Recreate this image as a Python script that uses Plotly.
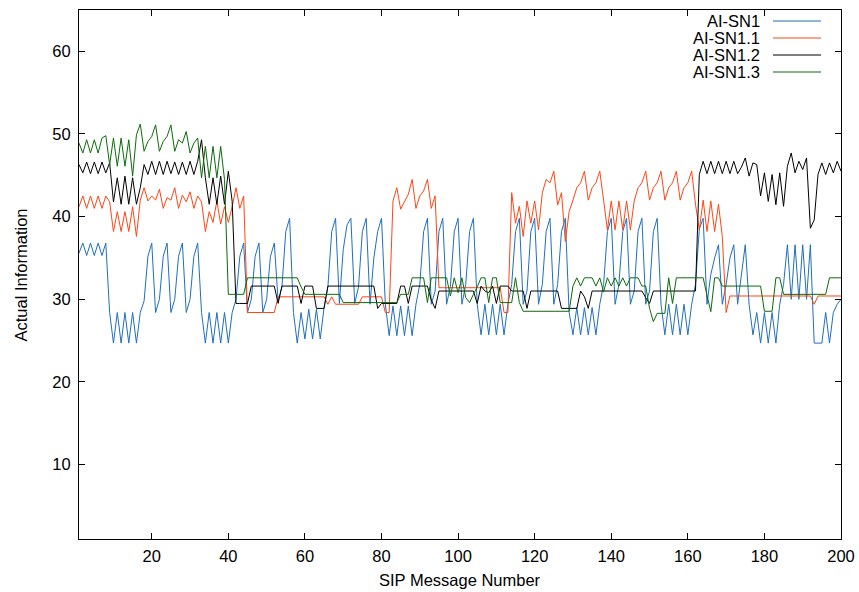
import plotly.graph_objects as go

msg_num = list(range(1, 201))

ai_sn1 = [
    35.6, 36.8, 35.3, 36.8, 35.3, 36.8, 35.3, 36.8, 28.4, 24.7,
    28.4, 24.7, 28.4, 24.7, 28.4, 24.7, 28.4, 29.8, 35.2, 36.8,
    28.4, 30.0, 35.2, 36.8, 28.4, 30.0, 35.2, 36.8, 28.4, 30.0,
    35.2, 36.8, 28.4, 24.7, 28.4, 24.7, 28.4, 24.7, 28.4, 24.7,
    28.4, 30.0, 35.2, 36.8, 28.4, 30.0, 35.2, 36.8, 28.4, 30.0,
    35.2, 36.8, 29.8, 31.5, 38.2, 39.8, 28.4, 24.7, 28.4, 25.2,
    28.8, 25.2, 28.8, 25.2, 29.0, 31.5, 38.2, 39.8, 29.5, 36.0,
    39.0, 39.8, 29.5, 31.5, 38.2, 39.8, 29.4, 35.0, 38.2, 39.8,
    29.4, 25.6, 29.2, 25.6, 29.2, 25.6, 29.2, 25.6, 29.4, 31.8,
    38.2, 39.8, 29.4, 31.0, 38.2, 39.8, 29.4, 31.6, 38.2, 39.8,
    29.4, 31.8, 38.2, 39.8, 29.4, 25.7, 29.4, 25.7, 29.4, 25.7,
    29.4, 25.7, 29.4, 31.8, 38.2, 39.8, 29.4, 31.0, 38.2, 39.8,
    29.4, 31.8, 38.2, 39.8, 29.4, 31.8, 38.2, 39.8, 28.4, 25.7,
    29.0, 25.7, 29.0, 25.7, 29.0, 25.7, 29.4, 31.8, 38.2, 39.8,
    29.4, 31.8, 38.2, 39.8, 29.4, 31.0, 38.2, 39.8, 29.4, 31.0,
    38.2, 39.8, 29.4, 25.7, 29.4, 25.7, 29.4, 25.7, 29.4, 25.7,
    29.4, 31.8, 38.5, 39.8, 29.4, 33.0, 35.0, 36.6, 29.4, 31.8,
    35.0, 36.6, 29.4, 33.0, 36.6, 29.4, 25.7, 28.4, 24.7, 28.4,
    24.7, 28.4, 24.7, 29.4, 31.8, 36.6, 30.0, 36.6, 30.0, 36.6,
    30.0, 36.6, 24.7, 24.7, 24.7, 28.4, 24.7, 28.4, 29.4, 30.0,
]

ai_sn1_1 = [
    41.2, 42.5, 41.0, 42.5, 41.0, 42.5, 41.0, 42.5, 41.8, 38.2,
    40.6, 38.2, 40.6, 38.2, 41.2, 37.6, 42.0, 43.5, 41.9, 42.5,
    42.0, 43.3, 41.0, 42.3, 42.0, 43.5, 41.0, 42.6, 41.8, 43.0,
    41.0, 42.5, 41.8, 38.2, 40.6, 39.3, 41.9, 39.1, 41.2, 39.3,
    41.2, 43.5, 41.0, 42.5, 28.4, 28.4, 28.4, 28.4, 28.4, 28.4,
    28.4, 28.4, 30.3, 30.3, 30.3, 30.3, 30.3, 30.3, 30.3, 30.3,
    30.3, 30.3, 30.3, 30.3, 30.3, 29.4, 30.3, 29.4, 29.4, 29.4,
    29.4, 29.4, 29.4, 29.4, 30.3, 30.3, 30.3, 30.3, 30.3, 30.3,
    28.4, 28.4, 41.9, 43.5, 40.9, 41.9, 42.7, 44.5, 41.0, 42.5,
    43.1, 44.5, 41.0, 42.5, 31.4, 31.4, 31.4, 31.4, 31.4, 31.4,
    31.4, 31.4, 31.4, 31.4, 31.4, 31.4, 31.4, 31.4, 31.4, 31.4,
    31.4, 28.4, 28.4, 42.9, 39.2, 41.25, 37.6, 41.9, 39.2, 41.9,
    38.4, 42.9, 44.5, 44.1, 45.5, 41.4, 42.9, 37.0, 40.6, 42.0,
    43.5, 44.1, 45.5, 42.0, 43.5, 44.1, 45.5, 42.0, 38.4, 41.9,
    38.4, 41.9, 38.4, 41.9, 38.4, 41.9, 43.5, 44.1, 45.5, 42.0,
    43.5, 44.1, 45.5, 42.0, 43.5, 44.1, 45.5, 42.0, 43.5, 44.1,
    45.5, 41.5, 38.4, 42.0, 38.2, 41.9, 38.2, 41.5, 37.6, 28.4,
    30.4, 30.4, 30.4, 30.4, 30.4, 30.4, 30.4, 30.4, 30.4, 30.4,
    30.4, 30.4, 30.4, 30.4, 30.4, 30.4, 30.4, 30.4, 30.4, 30.4,
    30.4, 30.4, 29.4, 30.4, 30.4, 30.4, 30.4, 30.4, 30.4, 30.4,
]

ai_sn1_2 = [
    46.3, 45.3, 46.6, 45.2, 46.6, 45.2, 46.6, 45.3, 46.5, 41.8,
    44.7, 41.5, 44.9, 41.5, 44.7, 41.5, 43.5, 46.3, 45.1, 46.7,
    45.1, 46.7, 45.1, 46.7, 45.2, 46.6, 45.1, 46.6, 45.1, 46.7,
    45.1, 46.7, 49.3, 44.7, 41.5, 44.7, 41.5, 44.9, 41.5, 45.5,
    41.85, 29.5, 29.5, 29.5, 29.5, 31.6, 31.6, 31.6, 31.6, 31.6,
    31.6, 31.6, 29.5, 31.6, 31.6, 31.6, 31.6, 31.6, 29.5, 31.6,
    31.6, 31.6, 28.9, 28.9, 28.9, 31.6, 31.6, 31.6, 31.6, 31.6,
    31.6, 31.6, 31.6, 31.6, 31.6, 31.6, 31.6, 31.6, 28.9, 29.5,
    29.5, 29.5, 29.5, 29.5, 31.6, 31.6, 29.5, 31.6, 31.6, 31.6,
    31.6, 31.6, 29.9, 28.9, 31.0, 31.0, 31.0, 31.0, 31.0, 31.0,
    31.0, 31.0, 31.0, 31.0, 29.5, 31.6, 31.0, 30.8, 31.6, 29.5,
    31.6, 31.6, 31.6, 31.0, 31.0, 31.0, 31.0, 28.9, 31.0, 31.0,
    31.0, 31.0, 31.0, 31.0, 31.0, 31.0, 28.9, 28.9, 28.9, 28.9,
    28.9, 31.0, 30.3, 28.9, 31.0, 31.0, 31.0, 31.0, 31.0, 31.0,
    31.0, 31.0, 31.0, 31.0, 31.0, 31.0, 31.0, 31.0, 30.2, 29.5,
    31.0, 31.0, 31.0, 31.0, 31.0, 31.0, 31.0, 31.0, 31.0, 31.0,
    31.0, 31.0, 45.1, 46.7, 45.2, 46.7, 45.2, 46.7, 45.2, 46.7,
    45.2, 46.7, 45.2, 46.0, 47.1, 44.9, 46.5, 46.3, 42.5, 45.3,
    41.85, 45.1, 41.45, 45.3, 41.25, 46.1, 47.7, 45.3, 46.7, 45.7,
    47.1, 38.6, 39.6, 45.1, 46.5, 45.1, 46.5, 45.3, 46.7, 45.5,
]

ai_sn1_3 = [
    48.9, 47.7, 49.3, 47.7, 49.3, 47.7, 49.5, 49.8, 46.3, 49.5,
    46.1, 49.5, 46.1, 49.3, 44.9, 49.9, 51.2, 47.9, 49.1, 49.7,
    51.1, 47.9, 49.1, 49.7, 51.1, 47.9, 49.3, 48.9, 50.3, 47.7,
    48.9, 49.5, 44.7, 48.5, 44.7, 48.5, 44.7, 48.5, 44.5, 30.6,
    30.6, 30.6, 30.6, 30.6, 32.6, 32.6, 32.6, 32.6, 32.6, 32.6,
    32.6, 32.6, 32.6, 32.6, 32.6, 32.6, 32.6, 32.6, 31.5, 30.6,
    30.6, 30.6, 30.6, 30.6, 30.6, 30.6, 30.6, 30.6, 30.6, 29.6,
    29.6, 29.6, 29.6, 29.6, 29.6, 29.6, 29.6, 29.6, 29.6, 29.6,
    29.6, 29.6, 29.6, 29.6, 30.6, 30.6, 30.6, 32.6, 32.6, 32.6,
    32.6, 29.6, 32.6, 32.6, 32.6, 32.6, 32.6, 30.4, 32.6, 30.8,
    32.6, 30.2, 29.6, 30.6, 31.5, 32.6, 32.6, 29.6, 32.6, 32.6,
    29.6, 29.6, 29.6, 29.6, 32.6, 29.6, 28.55, 28.55, 28.55, 28.55,
    28.55, 28.55, 28.55, 28.55, 28.55, 28.55, 28.55, 28.55, 28.55, 31.6,
    32.6, 31.6, 32.6, 32.6, 32.6, 31.6, 32.6, 30.9, 32.6, 31.6,
    32.6, 31.6, 32.6, 31.6, 32.6, 32.6, 32.6, 31.6, 31.6, 28.9,
    27.3, 28.3, 28.3, 28.3, 32.6, 29.5, 32.6, 32.6, 32.6, 32.6,
    32.6, 32.6, 32.6, 32.6, 30.5, 28.5, 32.6, 32.6, 31.6, 31.6,
    31.6, 31.6, 31.6, 31.6, 31.6, 31.6, 31.6, 31.6, 31.6, 28.55,
    28.55, 28.55, 32.6, 32.6, 30.6, 30.6, 30.6, 30.6, 30.6, 30.6,
    30.6, 30.6, 30.6, 30.6, 30.6, 30.6, 32.6, 32.6, 32.6, 32.6,
]

series_names = ["AI-SN1", "AI-SN1.1", "AI-SN1.2", "AI-SN1.3"]
series_data = [ai_sn1, ai_sn1_1, ai_sn1_2, ai_sn1_3]
series_colors = ["#1f6fbe", "#ff4514", "#000000", "#0b6b0b"]

x_ticks = [20, 40, 60, 80, 100, 120, 140, 160, 180, 200]
y_ticks = [10, 20, 30, 40, 50, 60]

FONT = "Liberation Sans, Arial, Helvetica, sans-serif"
FS = 16.5

fig = go.Figure()
for name, vals, col in zip(series_names, series_data, series_colors):
    fig.add_trace(go.Scatter(x=msg_num, y=vals, mode="lines", name=name,
                             line=dict(color=col, width=1), showlegend=False))

W, H = 859, 592
L, R, T, B = 79, 18, 10, 53
pw, ph = W - L - R, H - T - B

def px_to_paper_x(px):
    return (px - L) / pw

def px_to_paper_y(py):
    return (H - B - py) / ph

shapes = []
annotations = []
legend_rows = [21, 38, 55, 72]
for name, col, py in zip(series_names, series_colors, legend_rows):
    yp = px_to_paper_y(py)
    annotations.append(dict(x=px_to_paper_x(762), y=yp, xref="paper", yref="paper",
                            text=name, showarrow=False, xanchor="right", yanchor="middle",
                            font=dict(family=FONT, size=FS, color="#000000")))
    shapes.append(dict(type="line", xref="paper", yref="paper",
                       x0=px_to_paper_x(773), x1=px_to_paper_x(821), y0=yp, y1=yp,
                       line=dict(color=col, width=1)))

annotations.append(dict(x=px_to_paper_x(20), y=0.5, xref="paper", yref="paper",
                        text="Actual Information", textangle=-90, showarrow=False,
                        xanchor="center", yanchor="middle",
                        font=dict(family=FONT, size=FS, color="#000000")))
annotations.append(dict(x=0.5, y=px_to_paper_y(580), xref="paper", yref="paper",
                        text="SIP Message Number", showarrow=False,
                        xanchor="center", yanchor="middle",
                        font=dict(family=FONT, size=FS, color="#000000")))

fig.update_layout(
    width=W, height=H, autosize=False,
    margin=dict(l=L, r=R, t=T, b=B, pad=0, autoexpand=False),
    plot_bgcolor="white", paper_bgcolor="white",
    font=dict(family=FONT, size=FS, color="#000000"),
    shapes=shapes, annotations=annotations,
    showlegend=False,
)
fig.update_xaxes(range=[1, 200], tickvals=x_ticks, ticks="inside", ticklen=6,
                 tickcolor="black", showline=True, linecolor="black", linewidth=1,
                 mirror="ticks", showgrid=False, zeroline=False, automargin=False,
                 ticklabelstandoff=2)
fig.update_yaxes(range=[1, 65], tickvals=y_ticks, ticks="inside", ticklen=6,
                 tickcolor="black", showline=True, linecolor="black", linewidth=1,
                 mirror="ticks", showgrid=False, zeroline=False, automargin=False,
                 ticklabelstandoff=4)

fig.write_html("out.html")
